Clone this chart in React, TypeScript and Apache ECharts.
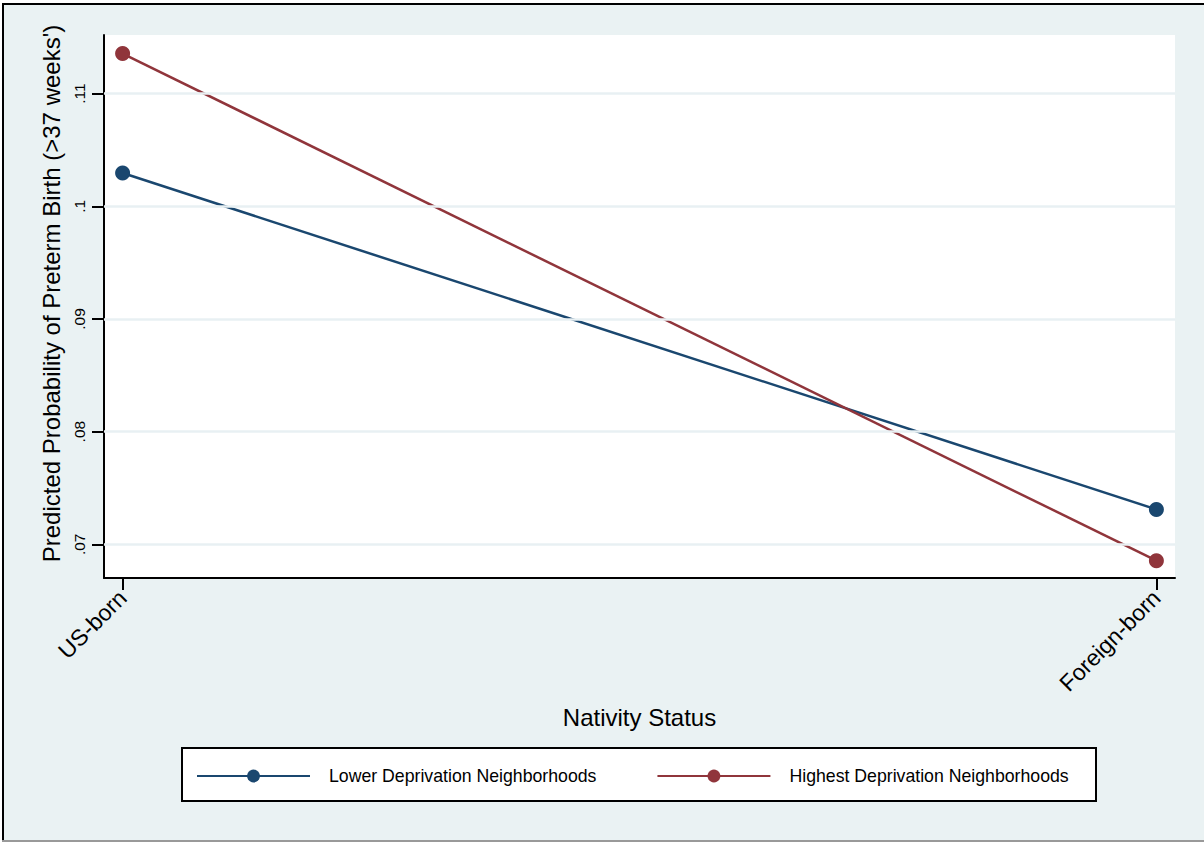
import React, { useEffect, useRef } from "react";
import * as echarts from "echarts";

const categories = ["US-born", "Foreign-born"];
const lowerDeprivation = [0.10295, 0.0731];
const highestDeprivation = [0.11355, 0.06855];
const yTicks = [0.07, 0.08, 0.09, 0.1, 0.11];
const seriesNames = ["Lower Deprivation Neighborhoods", "Highest Deprivation Neighborhoods"];

const FONT = "'Liberation Sans', Arial, sans-serif";

export default function App() {
  const ref = useRef<HTMLDivElement>(null);
  useEffect(() => {
    document.body.style.margin = "0";
    const chart = echarts.init(ref.current!, null, { renderer: "svg" });
    const xIdx = categories.map((_, i) => i);
    const option: any = {
      animation: false,
      backgroundColor: "#ffffff",
      textStyle: { fontFamily: FONT },
      graphic: [
        { type: "rect", z: -10, shape: { x: 3, y: 4, width: 1201, height: 836 }, style: { fill: "#eaf2f3" } },
        { type: "line", z: 10, shape: { x1: 3, y1: 3, x2: 3, y2: 842 }, style: { stroke: "#000", lineWidth: 2 } },
        { type: "line", z: 10, shape: { x1: 2, y1: 4, x2: 1204, y2: 4 }, style: { stroke: "#000", lineWidth: 2 } },
        { type: "line", z: 10, shape: { x1: 2, y1: 841, x2: 1204, y2: 841 }, style: { stroke: "#999", lineWidth: 2 } },
        { type: "rect", z: 1, shape: { x: 182, y: 748, width: 914, height: 53 }, style: { fill: "#fff", stroke: "#000", lineWidth: 2 } },
      ],
      grid: { left: 104, top: 35, right: 29, bottom: 264, show: true, backgroundColor: "#ffffff", borderWidth: 0 },
      legend: {
        data: seriesNames,
        left: 196,
        top: 767,
        padding: 0,
        itemWidth: 113,
        itemHeight: 16,
        itemGap: 60,
        textStyle: { fontSize: 17.7, color: "#000", fontFamily: FONT, padding: [0, 0, 0, 14] },
      },
      xAxis: {
        type: "value",
        min: -0.018,
        max: 1.018,
        name: "Nativity Status",
        nameLocation: "middle",
        nameGap: 127,
        nameTextStyle: { fontSize: 24, color: "#000", fontFamily: FONT },
        axisLine: { show: true, onZero: false, lineStyle: { color: "#000", width: 2 } },
        axisTick: { show: true, length: 12, lineStyle: { color: "#000", width: 2 }, customValues: xIdx },
        axisLabel: {
          customValues: xIdx,
          rotate: 45,
          margin: 16,
          fontSize: 23,
          color: "#000",
          fontFamily: FONT,
          formatter: (v: number) => categories[Math.round(v)] ?? "",
        },
        splitLine: { show: false },
      },
      yAxis: {
        type: "value",
        min: 0.067011,
        max: 0.115197,
        name: "Predicted Probability of Preterm Birth (>37 weeks')",
        nameLocation: "middle",
        nameGap: 41,
        nameTextStyle: { fontSize: 24, color: "#000", fontFamily: FONT, padding: [0, 0, 0, 26] },
        axisLine: { show: true, onZero: false, lineStyle: { color: "#000", width: 2 } },
        axisTick: { show: true, length: 12, lineStyle: { color: "#000", width: 2 }, customValues: yTicks },
        axisLabel: {
          customValues: yTicks,
          rotate: 90,
          margin: 17,
          fontSize: 15.5,
          color: "#000",
          fontFamily: FONT,
          formatter: (v: number) => String(Math.round(v * 100) / 100).replace(/^0/, ""),
        },
        splitLine: { show: false },
      },
      series: [
        {
          type: "line",
          name: "grid",
          data: [],
          z: 1,
          silent: true,
          markLine: {
            silent: true,
            symbol: "none",
            label: { show: false },
            lineStyle: { type: "solid", color: "#e8f0f3", width: 2.5 },
            data: yTicks.map((v) => ({ yAxis: v })),
          },
        },
        {
          type: "line",
          name: seriesNames[0],
          data: lowerDeprivation.map((v, i) => [i, v]),
          z: 3,
          symbol: "circle",
          symbolSize: 15,
          lineStyle: { color: "#1a476f", width: 2.5 },
          itemStyle: { color: "#1a476f" },
        },
        {
          type: "line",
          name: seriesNames[1],
          data: highestDeprivation.map((v, i) => [i, v]),
          z: 4,
          symbol: "circle",
          symbolSize: 15,
          lineStyle: { color: "#90353b", width: 2.5 },
          itemStyle: { color: "#90353b" },
        },
      ],
    };
    chart.setOption(option);
    return () => chart.dispose();
  }, []);
  return <div ref={ref} style={{ width: 1204, height: 842 }} />;
}
